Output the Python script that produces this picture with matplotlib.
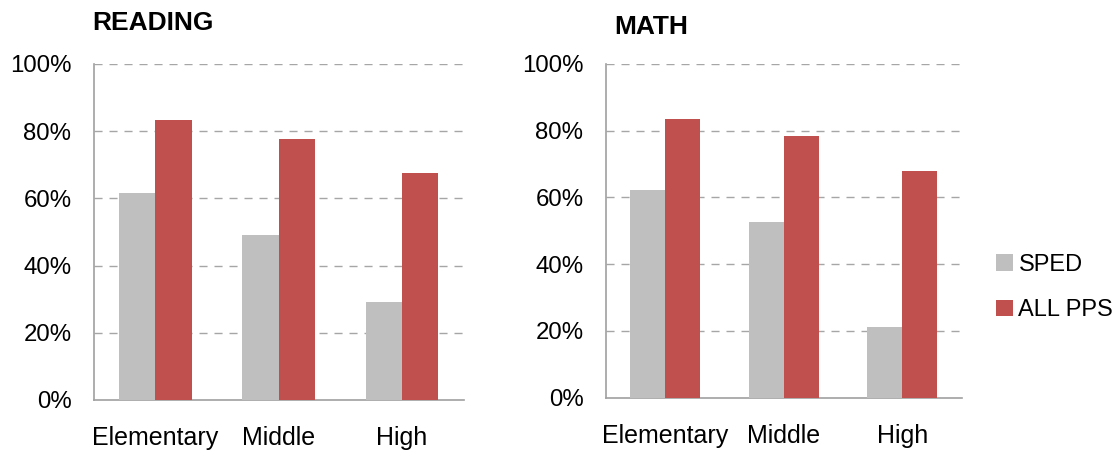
import matplotlib
matplotlib.use("Agg")
import matplotlib.pyplot as plt
import numpy as np
from matplotlib.patches import Patch

plt.rcParams['font.family'] = ['Liberation Sans', 'DejaVu Sans']

categories = ["Elementary", "Middle", "High"]
reading_sped = [61.7, 49.2, 29.2]
reading_all = [83.4, 77.7, 67.6]
math_sped = [62.1, 52.5, 21.1]
math_all = [83.4, 78.3, 67.8]
series_names = ["SPED", "ALL PPS"]
yticks = [0, 20, 40, 60, 80, 100]
ytick_labels = ["0%", "20%", "40%", "60%", "80%", "100%"]

GRAY = "#BFBFBF"
RED = "#C0504D"
GRID = "#A6A6A6"
SPINE = "#A0A0A0"

W, H = 1118, 454
fig = plt.figure(figsize=(W / 100, H / 100), dpi=100)

def make_ax(rect, sped, allp, title, title_x, title_y):
    ax = fig.add_axes(rect)
    x = np.arange(len(categories))
    bw = 0.295
    ax.bar(x - bw / 2, sped, width=bw, color=GRAY, zorder=3)
    ax.bar(x + bw / 2, allp, width=bw, color=RED, zorder=3)
    ax.set_xlim(-0.5, len(categories) - 0.5)
    ax.set_ylim(0, 100)
    ax.set_yticks(yticks)
    ax.set_yticklabels(ytick_labels, fontsize=17.3)
    ax.set_xticks(x)
    ax.set_xticklabels(categories, fontsize=18)
    ax.tick_params(axis='y', length=0, pad=16)
    ax.tick_params(axis='x', length=0, pad=19)
    for s in ['top', 'right']:
        ax.spines[s].set_visible(False)
    for s in ['left', 'bottom']:
        ax.spines[s].set_color(SPINE)
        ax.spines[s].set_linewidth(1.2)
    for yv in yticks[1:]:
        ax.axhline(yv, color=GRID, lw=1.0, dashes=(5.8, 5.0), zorder=1)
    fig.text(title_x / W, 1 - title_y / H, title, fontsize=19, fontweight='bold',
             ha='left', va='center')
    return ax

ax1 = make_ax([93.6 / W, (H - 400) / H, 370 / W, 336 / H],
              reading_sped, reading_all, "READING", 92, 23.5)
ax2 = make_ax([605.7 / W, (H - 397.7) / H, 356 / W, 334 / H],
              math_sped, math_all, "MATH", 614, 26.5)

handles = [Patch(facecolor=GRAY, edgecolor='none'), Patch(facecolor=RED, edgecolor='none')]
fig.legend(handles, series_names, loc='center left',
           bbox_to_anchor=(996 / W, 1 - 287.5 / H), frameon=False,
           fontsize=17, handlelength=0.7, handleheight=0.7,
           handletextpad=0.25, labelspacing=1.0, borderpad=0, borderaxespad=0)

fig.savefig("out.png", dpi=100)
